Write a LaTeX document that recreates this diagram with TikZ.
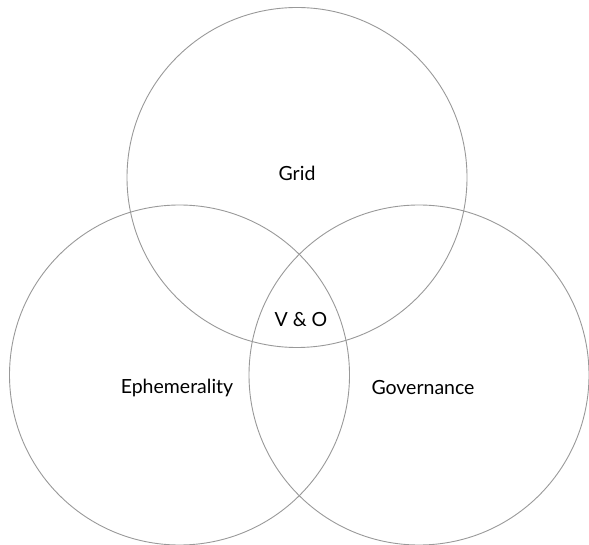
\documentclass[tikz,border=0pt]{standalone}
\usepackage{fontspec}
\setmainfont{Lato}
\tikzset{
  ring/.style={circle, draw=black!40, line width=0.9pt, minimum size=340pt, inner sep=0pt},
  lbl/.style={font=\fontsize{19.5}{22}\selectfont, text=black, inner sep=0pt}
}
\begin{document}
\begin{tikzpicture}[x=1pt,y=-1pt]
\useasboundingbox (0,0) rectangle (589,545);
\node[ring] (grid) at (297,177.5) {};
\node[ring] (eph) at (179.5,375) {};
\node[ring] (gov) at (419,375) {};
\node[lbl] (tgrid) at (297,173) {Grid};
\node[lbl] (tvo) at (301,320) {V \& O};
\node[lbl] (teph) at (177,388) {Ephemerality};
\node[lbl] (tgov) at (423,388) {Governance};
\end{tikzpicture}
\end{document}
